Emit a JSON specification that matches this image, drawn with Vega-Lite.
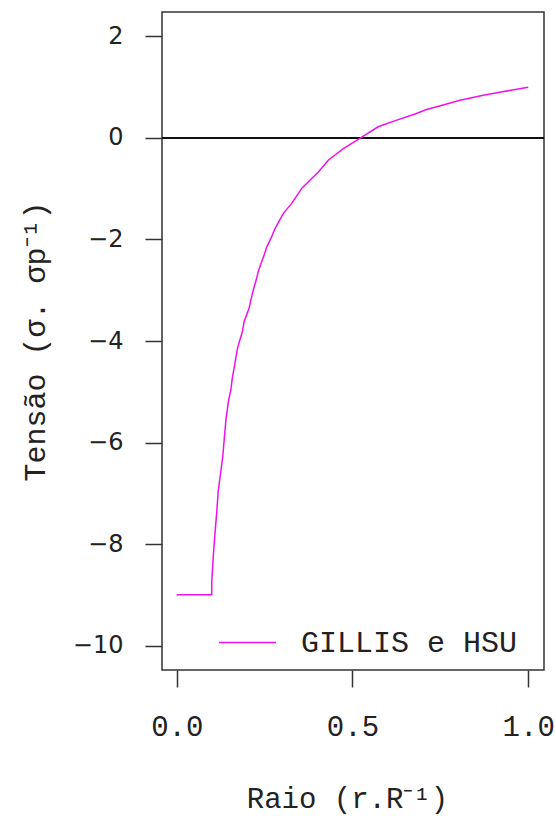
{
  "$schema": "https://vega.github.io/schema/vega-lite/v6.json",
  "width": 382,
  "height": 658,
  "padding": {"left": 162, "top": 12, "right": 12, "bottom": 146},
  "autosize": {"type": "none"},
  "background": "white",
  "config": {
    "view": {"stroke": "#333333", "strokeWidth": 1.5},
    "axis": {"grid": false, "domain": false, "tickColor": "#333333", "tickWidth": 1.5, "tickSize": 17, "labelColor": "#222222", "titleColor": "#222222", "titleFontWeight": "normal"}
  },
  "data": {
    "values": [
      {"r": 0.0, "s": -9.0, "series": "GILLIS e HSU"},
      {"r": 0.0995, "s": -9.0, "series": "GILLIS e HSU"},
      {"r": 0.0995, "s": -8.75, "series": "GILLIS e HSU"},
      {"r": 0.104, "s": -8.23, "series": "GILLIS e HSU"},
      {"r": 0.109, "s": -7.77, "series": "GILLIS e HSU"},
      {"r": 0.114, "s": -7.35, "series": "GILLIS e HSU"},
      {"r": 0.118, "s": -6.95, "series": "GILLIS e HSU"},
      {"r": 0.125, "s": -6.59, "series": "GILLIS e HSU"},
      {"r": 0.131, "s": -6.27, "series": "GILLIS e HSU"},
      {"r": 0.135, "s": -5.94, "series": "GILLIS e HSU"},
      {"r": 0.14, "s": -5.55, "series": "GILLIS e HSU"},
      {"r": 0.147, "s": -5.19, "series": "GILLIS e HSU"},
      {"r": 0.154, "s": -4.96, "series": "GILLIS e HSU"},
      {"r": 0.158, "s": -4.73, "series": "GILLIS e HSU"},
      {"r": 0.164, "s": -4.5, "series": "GILLIS e HSU"},
      {"r": 0.169, "s": -4.3, "series": "GILLIS e HSU"},
      {"r": 0.173, "s": -4.14, "series": "GILLIS e HSU"},
      {"r": 0.18, "s": -3.97, "series": "GILLIS e HSU"},
      {"r": 0.187, "s": -3.81, "series": "GILLIS e HSU"},
      {"r": 0.192, "s": -3.61, "series": "GILLIS e HSU"},
      {"r": 0.197, "s": -3.52, "series": "GILLIS e HSU"},
      {"r": 0.206, "s": -3.35, "series": "GILLIS e HSU"},
      {"r": 0.211, "s": -3.19, "series": "GILLIS e HSU"},
      {"r": 0.218, "s": -2.99, "series": "GILLIS e HSU"},
      {"r": 0.226, "s": -2.8, "series": "GILLIS e HSU"},
      {"r": 0.232, "s": -2.63, "series": "GILLIS e HSU"},
      {"r": 0.24, "s": -2.47, "series": "GILLIS e HSU"},
      {"r": 0.249, "s": -2.3, "series": "GILLIS e HSU"},
      {"r": 0.256, "s": -2.15, "series": "GILLIS e HSU"},
      {"r": 0.268, "s": -1.98, "series": "GILLIS e HSU"},
      {"r": 0.28, "s": -1.78, "series": "GILLIS e HSU"},
      {"r": 0.303, "s": -1.49, "series": "GILLIS e HSU"},
      {"r": 0.327, "s": -1.29, "series": "GILLIS e HSU"},
      {"r": 0.356, "s": -0.99, "series": "GILLIS e HSU"},
      {"r": 0.384, "s": -0.8, "series": "GILLIS e HSU"},
      {"r": 0.403, "s": -0.67, "series": "GILLIS e HSU"},
      {"r": 0.431, "s": -0.44, "series": "GILLIS e HSU"},
      {"r": 0.474, "s": -0.21, "series": "GILLIS e HSU"},
      {"r": 0.521, "s": -0.01, "series": "GILLIS e HSU"},
      {"r": 0.573, "s": 0.22, "series": "GILLIS e HSU"},
      {"r": 0.626, "s": 0.35, "series": "GILLIS e HSU"},
      {"r": 0.678, "s": 0.47, "series": "GILLIS e HSU"},
      {"r": 0.711, "s": 0.56, "series": "GILLIS e HSU"},
      {"r": 0.758, "s": 0.65, "series": "GILLIS e HSU"},
      {"r": 0.806, "s": 0.74, "series": "GILLIS e HSU"},
      {"r": 0.872, "s": 0.84, "series": "GILLIS e HSU"},
      {"r": 0.919, "s": 0.9, "series": "GILLIS e HSU"},
      {"r": 1.0, "s": 1.0, "series": "GILLIS e HSU"}
    ]
  },
  "layer": [
    {
      "mark": {"type": "rule", "color": "#111111", "strokeWidth": 1.5},
      "encoding": {"y": {"datum": 0, "type": "quantitative", "scale": {"domain": [-10.48, 2.48], "nice": false, "zero": false}}}
    },
    {
      "mark": {"type": "line", "strokeWidth": 1.5},
      "encoding": {
        "x": {
          "field": "r", "type": "quantitative",
          "scale": {"domain": [-0.042, 1.045], "nice": false, "zero": false},
          "axis": {
            "values": [0, 0.5, 1], "format": ".1f",
            "labelFont": "Liberation Mono", "labelFontSize": 29, "labelBaseline": "alphabetic", "labelPadding": 48,
            "title": "Raio (r.R⁻¹)", "titleFont": "Liberation Mono", "titleFontSize": 29,
            "titleX": 185, "titleY": 137, "titleBaseline": "alphabetic", "titleAlign": "center"
          }
        },
        "y": {
          "field": "s", "type": "quantitative",
          "scale": {"domain": [-10.48, 2.48], "nice": false, "zero": false},
          "axis": {
            "values": [-10, -8, -6, -4, -2, 0, 2],
            "labelFont": "DejaVu Sans", "labelFontSize": 24, "labelPadding": 22, "labelBaseline": "middle",
            "title": "Tensão (σ. σp⁻¹)", "titleFont": "Liberation Mono", "titleFontSize": 30,
            "titleX": -127, "titleY": 329, "titleAngle": -90, "titleBaseline": "middle", "titleAlign": "center"
          }
        },
        "color": {
          "field": "series", "type": "nominal",
          "scale": {"range": ["#ee11ee"]},
          "legend": {
            "orient": "none", "legendX": 56, "legendY": 601, "title": null,
            "symbolType": "stroke", "symbolSize": 3249, "symbolStrokeWidth": 1.5,
            "labelFont": "Liberation Mono", "labelFontSize": 30, "labelOffset": 24, "labelColor": "#222222",
            "labelLimit": 0, "padding": 0
          }
        }
      }
    }
  ]
}
